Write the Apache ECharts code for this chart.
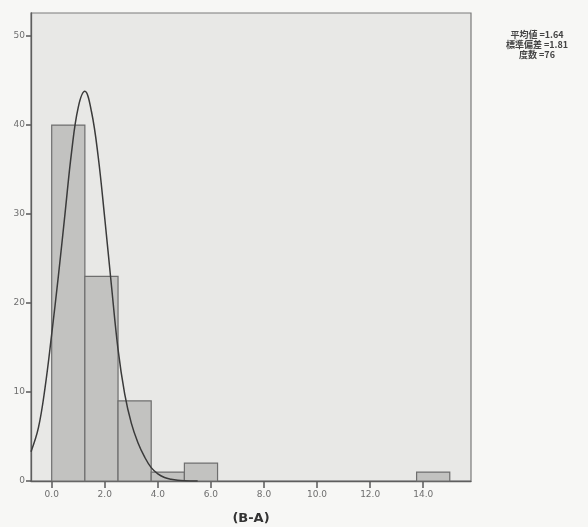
<!DOCTYPE html>
<html>
<head>
<meta charset="utf-8">
<script src="https://cdn.jsdelivr.net/npm/echarts@6/dist/echarts.min.js"></script>
<style>
html,body{margin:0;padding:0;background:#f7f7f5;}
#c{width:588px;height:527px;}
</style>
</head>
<body>
<div id="c"></div>
<script>
// Histogram bins (B-A)
const binStarts = [0, 1.25, 2.5, 3.75, 5.0, 6.25, 7.5, 8.75, 10.0, 11.25, 12.5, 13.75];
const binEnds   = [1.25, 2.5, 3.75, 5.0, 6.25, 7.5, 8.75, 10.0, 11.25, 12.5, 13.75, 15.0];
const counts    = [40, 23, 9, 1, 2, 0, 0, 0, 0, 0, 0, 1];
// Normal curve
const curveX = [-0.78, -0.5, -0.25, 0.0, 0.25, 0.5, 0.75, 1.0, 1.25, 1.5, 1.75, 2.0, 2.25, 2.5, 2.75, 3.0, 3.25, 3.5, 3.75, 4.0, 4.25, 4.5, 4.75, 5.0, 5.5];
const curveY = [3.3, 6.0, 10.5, 16.5, 23.0, 30.0, 37.0, 42.0, 43.8, 41.5, 36.5, 29.5, 22.0, 14.8, 9.8, 6.5, 4.3, 2.7, 1.5, 0.8, 0.4, 0.2, 0.08, 0.03, 0];
const xTicks = [0, 2, 4, 6, 8, 10, 12, 14];
const yTicks = [0, 10, 20, 30, 40, 50];
const statLines = ['平均値 =1.64', '標準偏差 =1.81', '度数 =76'];

const barData = binStarts.map((s, i) => [s, binEnds[i], counts[i]]);
const lineData = curveX.map((x, i) => [x, curveY[i]]);

const chart = echarts.init(document.getElementById('c'));
chart.setOption({
  backgroundColor: '#f7f7f5',
  animation: false,
  grid: {left: 31, right: 117, top: 13, bottom: 46, show: true, containLabel: false,
         outerBoundsMode: 'none',
         backgroundColor: '#e8e8e6', borderColor: '#7a7a7a', borderWidth: 1.2},
  xAxis: {
    type: 'value', min: -0.78, max: 15.8,
    name: '(B-A)', nameLocation: 'middle', nameGap: 31,
    nameTextStyle: {fontFamily: 'DejaVu Sans', fontWeight: 'bold', fontSize: 13, color: '#333'},
    axisLine: {show: true, onZero: false, lineStyle: {color: '#5e5e5e', width: 1.3}},
    axisTick: {show: true, inside: false, customValues: xTicks, length: 7, lineStyle: {color: '#5a5a5a', width: 1.5}},
    axisLabel: {customValues: xTicks, formatter: v => v.toFixed(1), fontSize: 9, color: '#6e6e6e', margin: 9,
                fontFamily: 'DejaVu Sans'},
    splitLine: {show: false}
  },
  yAxis: {
    type: 'value', min: 0, max: 52.6,
    axisLine: {show: true, onZero: false, lineStyle: {color: '#5e5e5e', width: 1.3}},
    axisTick: {show: true, customValues: yTicks, length: 5, lineStyle: {color: '#5a5a5a', width: 1.5}},
    axisLabel: {customValues: yTicks, fontSize: 9, color: '#6e6e6e', margin: 6, fontFamily: 'DejaVu Sans'},
    splitLine: {show: false}
  },
  graphic: statLines.map((t, i) => ({
    type: 'text', x: 537, y: 35 + i * 10,
    style: {text: t, fontSize: 9, fontWeight: 'bold', fill: '#444', fontFamily: 'Noto Sans CJK JP',
            align: 'center', verticalAlign: 'middle'}
  })),
  series: [
    {
      type: 'custom',
      data: barData,
      encode: {x: [0, 1], y: 2},
      renderItem: (params, api) => {
        const h = api.value(2);
        if (!h) return null;
        const p0 = api.coord([api.value(0), 0]);
        const p1 = api.coord([api.value(1), h]);
        return {
          type: 'rect',
          shape: {x: p0[0], y: p1[1], width: p1[0] - p0[0], height: p0[1] - p1[1]},
          style: {fill: '#c2c2c0', stroke: '#6e6e6e', lineWidth: 1.2}
        };
      },
      z: 2
    },
    {
      type: 'line', data: lineData, smooth: 0.4, showSymbol: false,
      lineStyle: {color: '#3a3a3a', width: 1.5}, z: 3
    }
  ]
});
</script>
</body>
</html>
